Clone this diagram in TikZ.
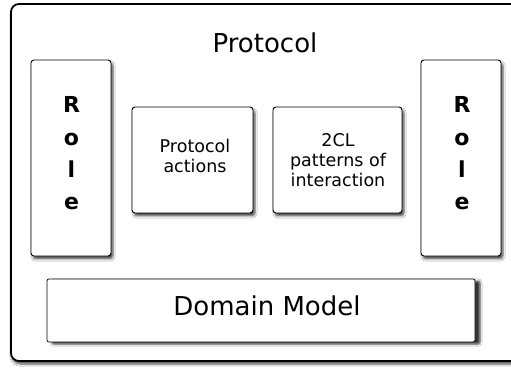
\documentclass[tikz,border=0pt]{standalone}
\usepackage{fontspec}
\setmainfont{DejaVu Sans}
\usetikzlibrary{shadows.blur}
\begin{document}
\begin{tikzpicture}[x=1pt,y=1pt,
  frame/.style={draw=black, line width=1.8pt, rounded corners=8pt, fill=white,
    blur shadow={shadow xshift=1pt, shadow yshift=-3pt, shadow blur steps=6, shadow opacity=70}},
  box/.style={draw=black, line width=0.9pt, rounded corners=3pt, fill=white, inner sep=0pt,
    blur shadow={shadow xshift=2pt, shadow yshift=-3pt, shadow blur steps=5, shadow opacity=70}},
  dombox/.style={draw=black, line width=0.7pt, rounded corners=2pt, fill=white, inner sep=0pt,
    blur shadow={shadow xshift=5pt, shadow yshift=-2pt, shadow blur steps=5, shadow opacity=80}},
  roletext/.style={font=\bfseries\fontsize{22}{32.3}\selectfont, align=center},
  midtext/.style={font=\fontsize{17.5}{20}\selectfont, align=center},
  bigtext/.style={font=\fontsize{26}{30}\selectfont}
]
\useasboundingbox (0,0) rectangle (511,367);
\clip (0,0) rectangle (511,367);
\fill[white] (0,0) rectangle (511,367);
\node[frame, minimum width=514pt, minimum height=357pt, inner sep=0pt] (outer) at (268,184.5) {};
\node[bigtext, anchor=base] (title) at (265,314) {Protocol};
\node[box, minimum width=80pt, minimum height=196pt] (roleL) at (71,209) {};
\node[box, minimum width=80pt, minimum height=196pt] (roleR) at (461,209) {};
\node[box, minimum width=121pt, minimum height=106pt] (actions) at (192.5,207) {};
\node[box, minimum width=129pt, minimum height=106pt] (patterns) at (337.5,207) {};
\node[dombox, minimum width=428pt, minimum height=63pt] (domain) at (261,56.5) {};
\node[roletext] (roleLt) at (71.5,213.5) {R\\o\\l\\e};
\node[roletext] (roleRt) at (462,213.5) {R\\o\\l\\e};
\node[midtext] (actionst) at (195,211) {Protocol\\actions};
\node[midtext] (patternst) at (338,206.5) {2CL\\patterns of\\interaction};
\node[bigtext, anchor=base] (domaint) at (267,52) {Domain Model};
\end{tikzpicture}
\end{document}
